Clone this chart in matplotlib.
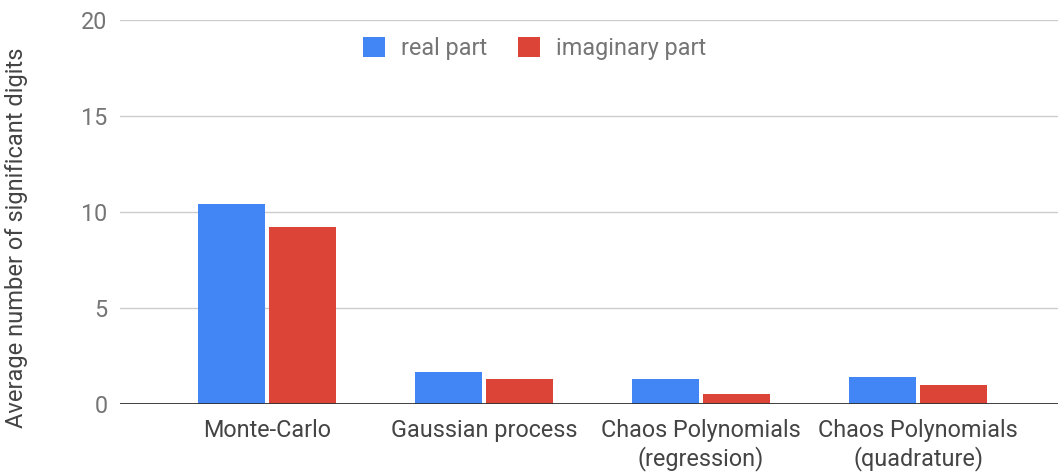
import matplotlib
matplotlib.use("Agg")
import matplotlib.pyplot as plt
import numpy as np

plt.rcParams['font.family'] = ['Roboto', 'DejaVu Sans']

categories = ['Monte-Carlo', 'Gaussian process', 'Chaos Polynomials\n(regression)', 'Chaos Polynomials\n(quadrature)']
real_part = [10.44, 1.69, 1.29, 1.40]
imag_part = [9.22, 1.28, 0.50, 1.00]

fig = plt.figure(figsize=(10.58, 4.73), dpi=100)
ax = fig.add_axes([120/1058, 69/473, 938/1058, 384/473])

x = np.arange(len(categories))
w = 0.309
ax.bar(x - 0.164, real_part, w, color='#4285F4', label='real part', zorder=3)
ax.bar(x + 0.164, imag_part, w, color='#DB4437', label='imaginary part', zorder=3)

ax.set_xlim(-0.677, 3.645)
ax.set_ylim(0, 20)
ax.set_yticks([0, 5, 10, 15, 20])
ax.grid(axis='y', color='#cccccc', linewidth=1, zorder=0)
ax.axhline(0, color='#333333', linewidth=1.3, zorder=4)
for s in ax.spines.values():
    s.set_visible(False)

ax.set_xticks(x)
ax.set_xticklabels(categories, fontsize=16.8, color='#444444', linespacing=1.2)
ax.tick_params(axis='x', length=0, pad=11)
ax.tick_params(axis='y', length=0, pad=9, labelsize=16.8, labelcolor='#757575')
ax.set_ylabel('Average number of significant digits', fontsize=17, color='#444444')
ax.yaxis.set_label_coords(-0.098, 0.432)

ax.legend(loc='center', bbox_to_anchor=(0.442, 0.925), ncol=2, frameon=False,
          fontsize=16.8, labelcolor='#757575', handlelength=0.95, handleheight=0.95,
          columnspacing=1.3, handletextpad=0.7)

fig.savefig('out.png', dpi=100)
